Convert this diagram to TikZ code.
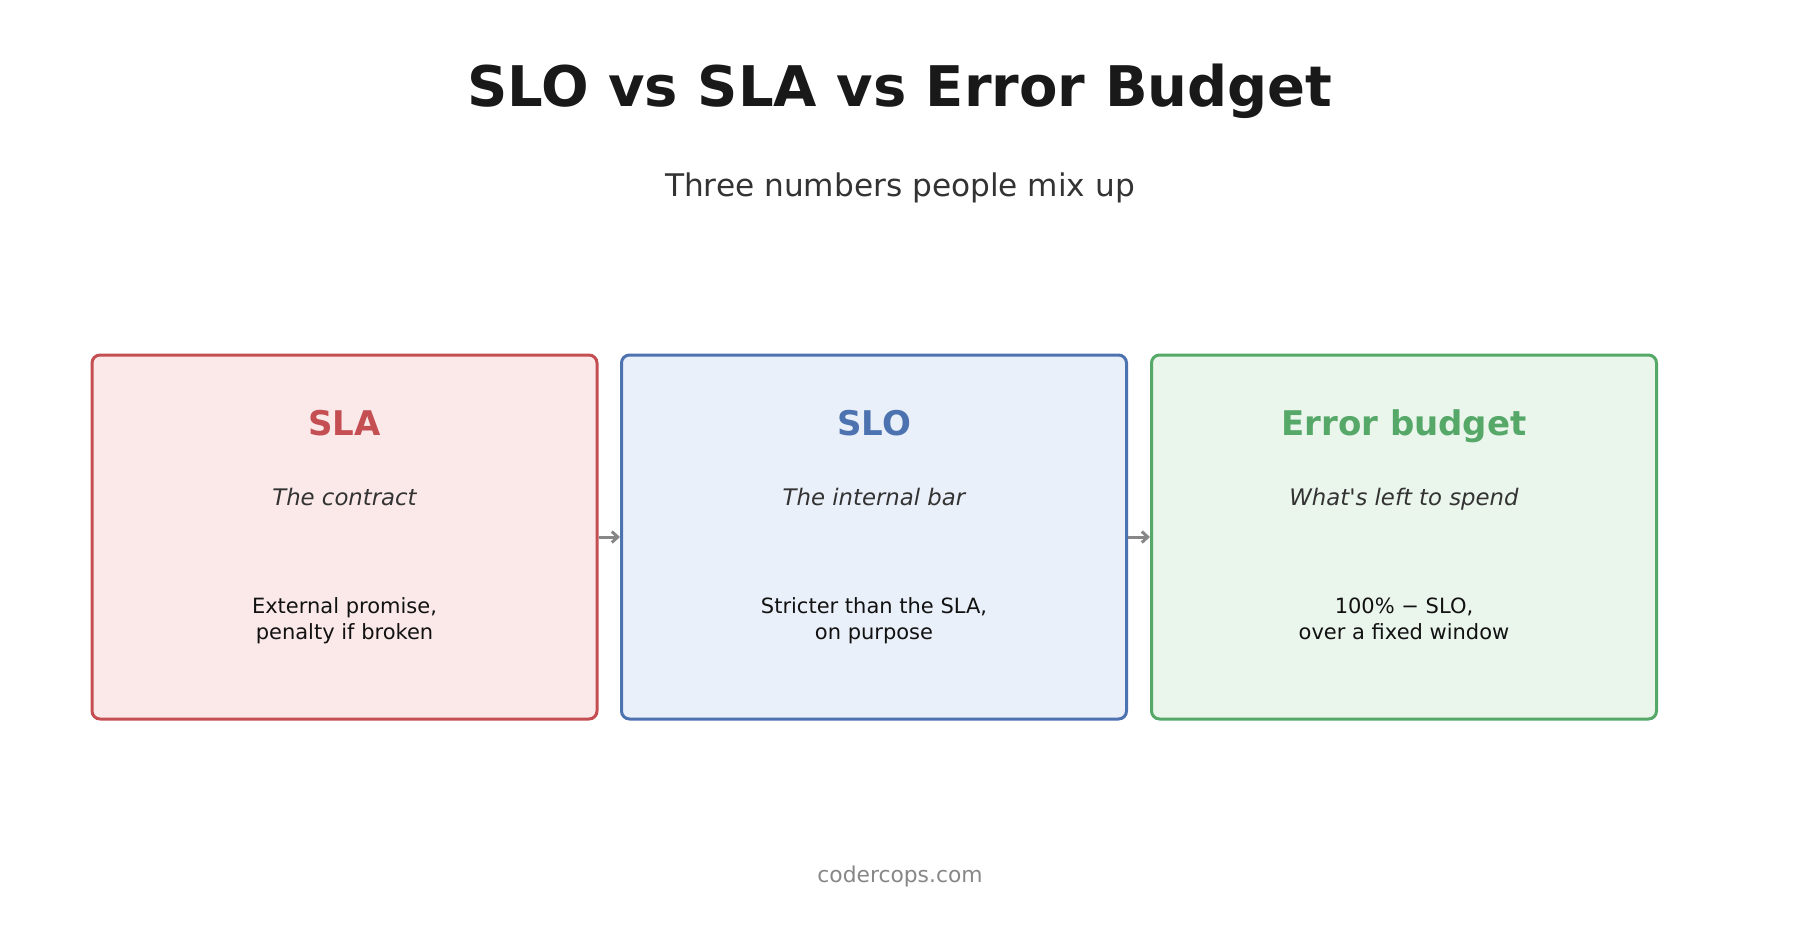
\documentclass[tikz,border=0pt]{standalone}
\usepackage{fontspec}
\setmainfont{DejaVu Sans}
\usetikzlibrary{positioning,arrows.meta}

\definecolor{slared}{HTML}{C44E52}
\definecolor{slafill}{HTML}{FBE9EA}
\definecolor{sloblue}{HTML}{4C72B0}
\definecolor{slofill}{HTML}{EAF0F9}
\definecolor{budgetgreen}{HTML}{55A868}
\definecolor{budgetfill}{HTML}{EAF5EC}

\tikzset{
  card/.style 2 args={draw=#1, fill=#2, line width=3pt, rounded corners=8pt,
    minimum width=505pt, minimum height=364pt, inner sep=0pt},
  cardhead/.style={text=#1, anchor=base, font=\fontsize{34}{40}\selectfont\bfseries},
  cardsub/.style={text=black!80, anchor=base, font=\fontsize{22.8}{28}\selectfont\itshape},
  cardbody/.style={text=black!93, align=center, text height=16pt, text depth=31pt,
    font=\fontsize{21}{26}\selectfont},
  link/.style={draw=black!47, line width=3pt, -{Straight Barb[length=6pt,width=11pt]}},
}

\begin{document}
\begin{tikzpicture}[x=1pt, y=-1pt]
    \useasboundingbox (0,0) rectangle (1800,945);

    \node[text=black!90, font=\fontsize{56}{66}\selectfont\bfseries] (title) at (900,91.5)
      {SLO vs SLA vs Error Budget};
    \node[text=black!80, font=\fontsize{31.2}{37}\selectfont] (subtitle) at (900,188)
      {Three numbers people mix up};

    \node[card={slared}{slafill}] (sla) at (344.5,537) {};
    \node[card={sloblue}{slofill}] (slo) at (874,537) {};
    \node[card={budgetgreen}{budgetfill}] (budget) at (1404,537) {};

    \node[cardhead=slared] (slahead) at (344.5,435) {SLA};
    \node[cardsub] (slasub) at (344.5,505) {The contract};
    \node[cardbody] (slabody) at (344.5,647) {External promise,\\penalty if broken};

    \node[cardhead=sloblue] (slohead) at (874,435) {SLO};
    \node[cardsub] (slosub) at (874,505) {The internal bar};
    \node[cardbody] (slobody) at (874,647) {Stricter than the SLA,\\on purpose};

    \node[cardhead=budgetgreen] (budgethead) at (1404,435) {Error budget};
    \node[cardsub] (budgetsub) at (1404,505) {What\textquotesingle s left to spend};
    \node[cardbody] (budgetbody) at (1404,647) {100\% − SLO,\\over a fixed window};

    \draw[link] (sla.east) -- (slo.west);
    \draw[link] (slo.east) -- (budget.west);

    \node[text=black!47, font=\fontsize{21.8}{26}\selectfont] (footer) at (900,876)
      {codercops.com};
  \end{tikzpicture}
\end{document}
